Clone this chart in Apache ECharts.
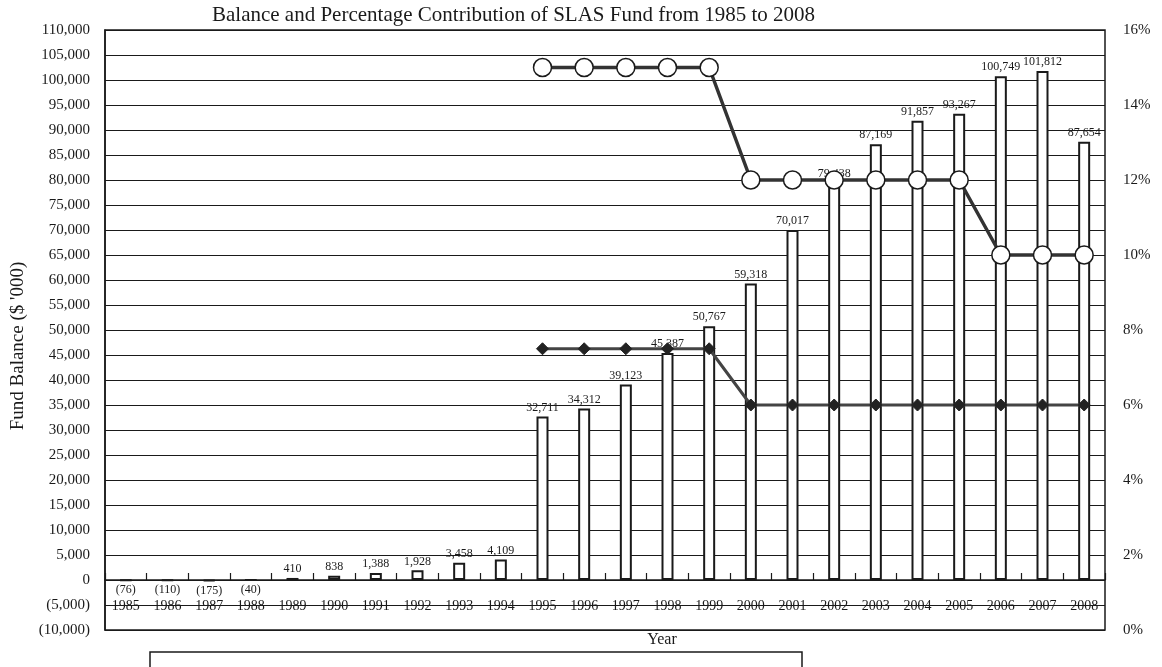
<!DOCTYPE html>
<html>
<head>
<meta charset="utf-8">
<script src="https://cdn.jsdelivr.net/npm/echarts@6/dist/echarts.min.js"></script>
<style>
html,body{margin:0;padding:0;background:#fff;}
#chart{width:1162px;height:667px;}
</style>
</head>
<body>
<div id="chart"></div>
<script>
// ---- data ----
var years = ['1985','1986','1987','1988','1989','1990','1991','1992','1993','1994','1995','1996','1997','1998','1999','2000','2001','2002','2003','2004','2005','2006','2007','2008'];
var fundBalance = [-76,-110,-175,-40,410,838,1388,1928,3458,4109,32711,34312,39123,45387,50767,59318,70017,79438,87169,91857,93267,100749,101812,87654];
var contributionHigh = [null,null,null,null,null,null,null,null,null,null,15,15,15,15,15,12,12,12,12,12,12,10,10,10];
var contributionLow = [null,null,null,null,null,null,null,null,null,null,7.5,7.5,7.5,7.5,7.5,6,6,6,6,6,6,6,6,6];
var titleText = 'Balance and Percentage Contribution of SLAS Fund from 1985 to 2008';
var leftAxisName = "Fund Balance ($ '000)";
var xAxisName = 'Year';

function commas(n){
  var s = String(Math.round(Math.abs(n)));
  return s.replace(/\B(?=(\d{3})+(?!\d))/g, ',');
}
function acct(n){ return n < 0 ? '(' + commas(n) + ')' : commas(n); }

var FONT = 'Liberation Serif';
var INK = '#1a1a1a';

var barData = fundBalance.map(function(v){
  if (v < 0) return { value: v, label: { position: 'bottom', distance: 3 } };
  return v;
});

var chart = echarts.init(document.getElementById('chart'));
chart.setOption({
  backgroundColor: '#fff',
  animation: false,
  title: {
    text: titleText,
    left: 207, top: 0,
    textStyle: { fontFamily: FONT, fontSize: 21, fontWeight: 'normal', color: INK }
  },
  grid: {
    left: 105, right: 57, top: 30, bottom: 37,
    outerBoundsMode: 'none',
    containLabel: false,
    show: true, borderColor: INK, borderWidth: 1.5, backgroundColor: 'transparent'
  },
  xAxis: {
    type: 'category',
    data: years,
    name: xAxisName,
    nameLocation: 'middle',
    nameGap: 2,
    nameTextStyle: { fontFamily: FONT, fontSize: 16, color: INK, padding: [0, 0, 0, 114] },
    axisLine: { onZero: true, onZeroAxisIndex: 0, lineStyle: { color: INK, width: 1.5 } },
    axisTick: { show: true, inside: true, length: 7, alignWithLabel: false, lineStyle: { color: INK, width: 1.2 } },
    axisLabel: { fontFamily: FONT, fontSize: 14, color: INK, margin: -31, interval: 0 },
    splitLine: { show: false }
  },
  yAxis: [
    {
      type: 'value',
      min: -10000, max: 110000, interval: 5000,
      name: leftAxisName,
      nameLocation: 'middle',
      nameGap: 63,
      nameRotate: 90,
      nameTextStyle: { fontFamily: FONT, fontSize: 19, color: INK, padding: [0, 32, 0, 0] },
      axisLine: { show: true, lineStyle: { color: INK, width: 1.5 } },
      axisTick: { show: false },
      axisLabel: { fontFamily: FONT, fontSize: 15, color: INK, margin: 15, formatter: function(v){ return acct(v); } },
      splitLine: { show: true, lineStyle: { color: INK, width: 1.2 } }
    },
    {
      type: 'value',
      min: 0, max: 16, interval: 2,
      position: 'right',
      axisLine: { show: false },
      axisTick: { show: false },
      axisLabel: { fontFamily: FONT, fontSize: 15, color: INK, margin: 18, formatter: '{value}%' },
      splitLine: { show: false }
    }
  ],
  series: [
    {
      name: 'Fund Balance',
      type: 'bar',
      data: barData,
      barWidth: 12,
      itemStyle: { color: '#fff', borderColor: INK, borderWidth: 2 },
      label: {
        show: true, position: 'top', distance: 3,
        fontFamily: FONT, fontSize: 12, color: INK,
        formatter: function(p){ return acct(p.value); }
      },
      z: 2
    },
    {
      name: 'Contribution (circle)',
      type: 'line',
      yAxisIndex: 1,
      data: contributionHigh,
      symbol: 'circle',
      symbolSize: 18,
      showAllSymbol: true,
      itemStyle: { color: '#fff', borderColor: INK, borderWidth: 1.5 },
      lineStyle: { color: '#333', width: 3.5 },
      z: 4
    },
    {
      name: 'Contribution (diamond)',
      type: 'line',
      yAxisIndex: 1,
      data: contributionLow,
      symbol: 'diamond',
      symbolSize: 12,
      showAllSymbol: true,
      itemStyle: { color: '#222', borderColor: '#222', borderWidth: 1 },
      lineStyle: { color: '#444', width: 3 },
      z: 4
    }
  ],
  graphic: [
    {
      type: 'rect',
      shape: { x: 150, y: 652, width: 652, height: 40 },
      style: { fill: 'none', stroke: INK, lineWidth: 1.5 },
      silent: true
    }
  ]
});
</script>
</body>
</html>
